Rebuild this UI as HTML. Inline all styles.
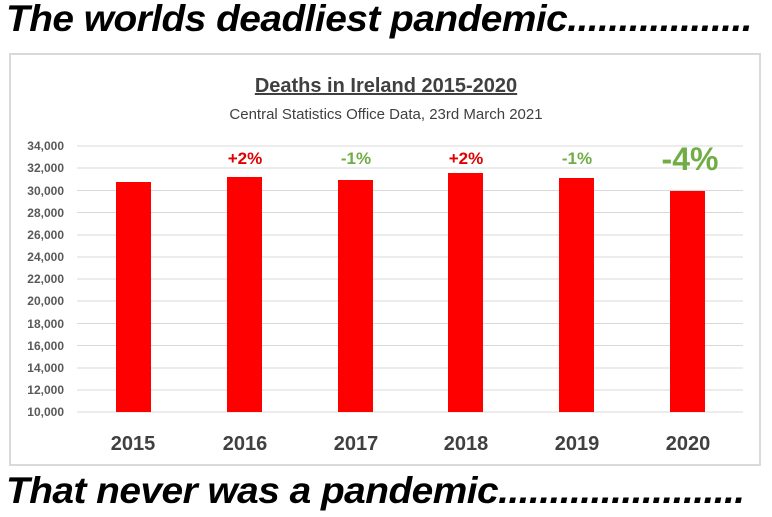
<!DOCTYPE html>
<html><head><style>
body{margin:0;width:772px;height:517px;background:#fff;overflow:hidden;position:relative;font-family:"Liberation Sans",sans-serif}
.big{position:absolute;left:6px;font-weight:bold;font-style:italic;font-size:37px;color:#000;letter-spacing:-0.5px;white-space:nowrap;transform:scaleX(1.05);transform-origin:left}
</style></head><body>
<div class="big" style="top:-2px">The worlds deadliest pandemic..................</div>
<div style="position:absolute;left:9px;top:53px;width:752px;height:413px;border:2px solid #d9d9d9;box-sizing:border-box"></div>
<svg width="772" height="517" style="position:absolute;left:0;top:0" font-family="Liberation Sans, sans-serif">
<text x="386" y="92" text-anchor="middle" font-size="20" font-weight="bold" fill="#404040" text-decoration="underline">Deaths in Ireland 2015-2020</text>
<text x="386" y="119" text-anchor="middle" font-size="15" fill="#404040">Central Statistics Office Data, 23rd March 2021</text>
<g stroke="#d9d9d9" stroke-width="1">
<line x1="77" x2="743" y1="146" y2="146"/><line x1="77" x2="743" y1="168" y2="168"/><line x1="77" x2="743" y1="190.5" y2="190.5"/><line x1="77" x2="743" y1="212.5" y2="212.5"/><line x1="77" x2="743" y1="235" y2="235"/><line x1="77" x2="743" y1="257" y2="257"/><line x1="77" x2="743" y1="279" y2="279"/><line x1="77" x2="743" y1="301" y2="301"/><line x1="77" x2="743" y1="323.5" y2="323.5"/><line x1="77" x2="743" y1="345.5" y2="345.5"/><line x1="77" x2="743" y1="368" y2="368"/><line x1="77" x2="743" y1="390" y2="390"/><line x1="77" x2="743" y1="412" y2="412"/>
</g>
<g font-size="12" font-weight="bold" fill="#595959" text-anchor="end">
<text x="64" y="150">34,000</text><text x="64" y="172">32,000</text><text x="64" y="195">30,000</text><text x="64" y="217">28,000</text><text x="64" y="239">26,000</text><text x="64" y="261">24,000</text><text x="64" y="283">22,000</text><text x="64" y="305">20,000</text><text x="64" y="328">18,000</text><text x="64" y="350">16,000</text><text x="64" y="372">14,000</text><text x="64" y="394">12,000</text><text x="64" y="416">10,000</text>
</g>
<g fill="#ff0000">
<rect x="116" y="182" width="35" height="230"/><rect x="227" y="177" width="35" height="235"/><rect x="338" y="180" width="35" height="232"/><rect x="448" y="173" width="35" height="239"/><rect x="559" y="178" width="35" height="234"/><rect x="670" y="191" width="35" height="221"/>
</g>
<g font-size="17" font-weight="bold" text-anchor="middle">
<text x="245" y="164" fill="#e00000">+2%</text><text x="356" y="164" fill="#70ad47">-1%</text><text x="466" y="164" fill="#e00000">+2%</text><text x="577" y="164" fill="#70ad47">-1%</text>
<text x="690" y="170" font-size="32" fill="#70ad47">-4%</text>
</g>
<g font-size="20" font-weight="bold" fill="#404040" text-anchor="middle">
<text x="133" y="450">2015</text><text x="245" y="450">2016</text><text x="356" y="450">2017</text><text x="466" y="450">2018</text><text x="577" y="450">2019</text><text x="688" y="450">2020</text>
</g>
</svg>
<div class="big" style="top:470px">That never was a pandemic........................</div>
</body></html>
